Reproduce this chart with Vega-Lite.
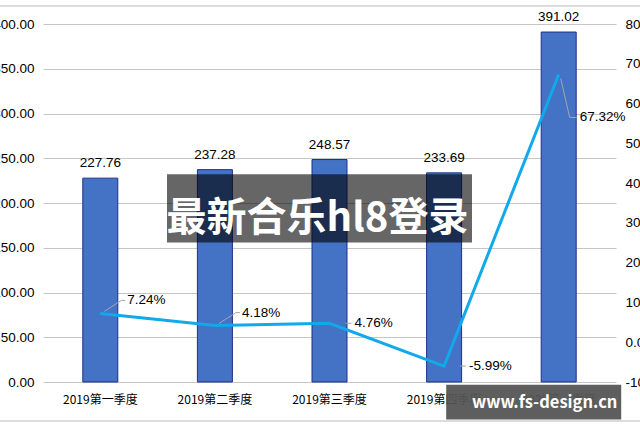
{
  "$schema": "https://vega.github.io/schema/vega-lite/v6.json",
  "width": 573,
  "height": 358,
  "autosize": {"type": "none"},
  "padding": {"left": 43, "top": 24, "right": 24, "bottom": 45},
  "background": "white",
  "config": {
    "font": "Liberation Sans",
    "view": {"stroke": null},
    "axis": {"labelFont": "Liberation Sans", "labelColor": "#000000"}
  },
  "data": {
    "values": [
      {"q": "2019第一季度", "revenue": 227.76, "growth": 7.24, "growthLabel": "7.24%", "grp": "A"},
      {"q": "2019第二季度", "revenue": 237.28, "growth": 4.18, "growthLabel": "4.18%", "grp": "A"},
      {"q": "2019第三季度", "revenue": 248.57, "growth": 4.76, "growthLabel": "4.76%", "grp": "B"},
      {"q": "2019第四季度", "revenue": 233.69, "growth": -5.99, "growthLabel": "-5.99%", "grp": "B"},
      {"q": "2020第一季度", "revenue": 391.02, "growth": 67.32, "growthLabel": "67.32%", "grp": "C"}
    ]
  },
  "encoding": {
    "x": {
      "field": "q",
      "type": "nominal",
      "sort": null,
      "scale": {"paddingInner": 0, "paddingOuter": 0},
      "axis": {"title": null, "labelAngle": 0, "domain": false, "ticks": false, "labelFontSize": 12, "labelPadding": 12, "labelFont": "Noto Sans CJK SC"}
    }
  },
  "layer": [
    {
      "encoding": {
        "y": {
          "field": "revenue",
          "type": "quantitative",
          "scale": {"domain": [0, 400], "nice": false},
          "axis": {"title": null, "values": [0, 50, 100, 150, 200, 250, 300, 350, 400], "format": ".2f", "domain": false, "ticks": false, "labelPadding": 9, "gridColor": "#c6c6c6", "labelFontSize": 13.5}
        }
      },
      "layer": [
        {"mark": {"type": "bar", "width": 35, "color": "#4472C4", "stroke": "#1F2F86", "strokeWidth": 1}},
        {"mark": {"type": "text", "dy": -8, "baseline": "bottom", "fontSize": 13.5, "color": "#000000"}, "encoding": {"text": {"field": "revenue", "type": "quantitative", "format": ".2f"}}}
      ]
    },
    {
      "encoding": {
        "y": {
          "field": "growth",
          "type": "quantitative",
          "scale": {"domain": [-10, 80], "nice": false},
          "axis": {"title": null, "orient": "right", "grid": false, "values": [-10, 0, 10, 20, 30, 40, 50, 60, 70, 80], "labelExpr": "replace(format(datum.value, '.2f'), '\u2212', '-') + '%'", "domain": false, "ticks": false, "labelPadding": 9, "labelFontSize": 13.5}
        }
      },
      "layer": [
        {
          "transform": [{"filter": "datum.grp == 'A'"}],
          "mark": {"type": "rule", "color": "#a6a6a6", "strokeWidth": 1, "xOffset": 4, "yOffset": -2, "x2Offset": 21, "y2Offset": -13},
          "encoding": {"x2": {"field": "q"}, "y2": {"field": "growth"}}
        },
        {
          "transform": [{"filter": "datum.grp == 'A'"}],
          "mark": {"type": "rule", "color": "#a6a6a6", "strokeWidth": 1, "xOffset": 21, "yOffset": -13, "x2Offset": 25, "y2Offset": -13},
          "encoding": {"x2": {"field": "q"}, "y2": {"field": "growth"}}
        },
        {
          "transform": [{"filter": "datum.grp == 'B'"}],
          "mark": {"type": "rule", "color": "#a6a6a6", "strokeWidth": 1, "xOffset": 16, "x2Offset": 22},
          "encoding": {"x2": {"field": "q"}, "y2": {"field": "growth"}}
        },
        {
          "transform": [{"filter": "datum.grp == 'C'"}],
          "mark": {"type": "rule", "color": "#a6a6a6", "strokeWidth": 1, "xOffset": 2, "yOffset": 4, "x2Offset": 11, "y2Offset": 43},
          "encoding": {"x2": {"field": "q"}, "y2": {"field": "growth"}}
        },
        {
          "transform": [{"filter": "datum.grp == 'C'"}],
          "mark": {"type": "rule", "color": "#a6a6a6", "strokeWidth": 1, "xOffset": 11, "yOffset": 43, "x2Offset": 18, "y2Offset": 43},
          "encoding": {"x2": {"field": "q"}, "y2": {"field": "growth"}}
        },
        {"mark": {"type": "line", "color": "#12A9EC", "strokeWidth": 3}},
        {
          "transform": [{"filter": "datum.grp == 'A'"}],
          "mark": {"type": "text", "align": "left", "baseline": "middle", "dx": 27, "dy": -13, "fontSize": 13.5, "color": "#000000"},
          "encoding": {"text": {"field": "growthLabel"}}
        },
        {
          "transform": [{"filter": "datum.grp == 'B'"}],
          "mark": {"type": "text", "align": "left", "baseline": "middle", "dx": 25, "dy": 0, "fontSize": 13.5, "color": "#000000"},
          "encoding": {"text": {"field": "growthLabel"}}
        },
        {
          "transform": [{"filter": "datum.grp == 'C'"}],
          "mark": {"type": "text", "align": "left", "baseline": "middle", "dx": 21, "dy": 43, "fontSize": 13.5, "color": "#000000"},
          "encoding": {"text": {"field": "growthLabel"}}
        }
      ]
    },
    {
      "data": {
        "values": [
          {"label": "最新合乐hl8登录", "site": "www.fs-design.cn"}
        ]
      },
      "encoding": {
        "y": {"type": "quantitative", "scale": {"domain": [0, 400], "nice": false}, "axis": null}
      },
      "layer": [
        {
          "mark": {"type": "rule", "color": "#d0d0d0", "strokeWidth": 1.5, "xOffset": -60, "x2Offset": 40},
          "encoding": {"x": {"datum": "2019第一季度", "bandPosition": 0}, "x2": {"datum": "2020第一季度", "bandPosition": 1}, "y": {"datum": 420, "type": "quantitative"}}
        },
        {
          "mark": {"type": "rule", "color": "#d0d0d0", "strokeWidth": 1.5, "xOffset": -60, "x2Offset": 40},
          "encoding": {"x": {"datum": "2019第一季度", "bandPosition": 0}, "x2": {"datum": "2020第一季度", "bandPosition": 1}, "y": {"datum": -43.5, "type": "quantitative"}}
        },
        {
          "mark": {"type": "bar", "width": 305, "xOffset": -10, "color": "#000000", "opacity": 0.6},
          "encoding": {"x": {"datum": "2019第三季度"}, "y": {"datum": 232, "type": "quantitative"}, "y2": {"datum": 156}}
        },
        {
          "mark": {"type": "text", "font": "Noto Sans CJK SC", "fontWeight": "bold", "fontSize": 40, "color": "#ffffff", "baseline": "middle", "dx": -12},
          "encoding": {"x": {"datum": "2019第三季度"}, "y": {"datum": 182, "type": "quantitative"}, "text": {"field": "label"}}
        },
        {
          "mark": {"type": "bar", "width": 175, "xOffset": -25, "color": "#555555", "opacity": 0.95},
          "encoding": {"x": {"datum": "2020第一季度"}, "y": {"datum": -3, "type": "quantitative"}, "y2": {"datum": -42}}
        },
        {
          "mark": {"type": "text", "font": "Noto Sans CJK SC", "fontWeight": "bold", "fontSize": 16.5, "color": "#ffffff", "baseline": "middle", "dx": -14},
          "encoding": {"x": {"datum": "2020第一季度"}, "y": {"datum": -23.5, "type": "quantitative"}, "text": {"field": "site"}}
        }
      ]
    }
  ],
  "resolve": {"scale": {"y": "independent"}}
}
